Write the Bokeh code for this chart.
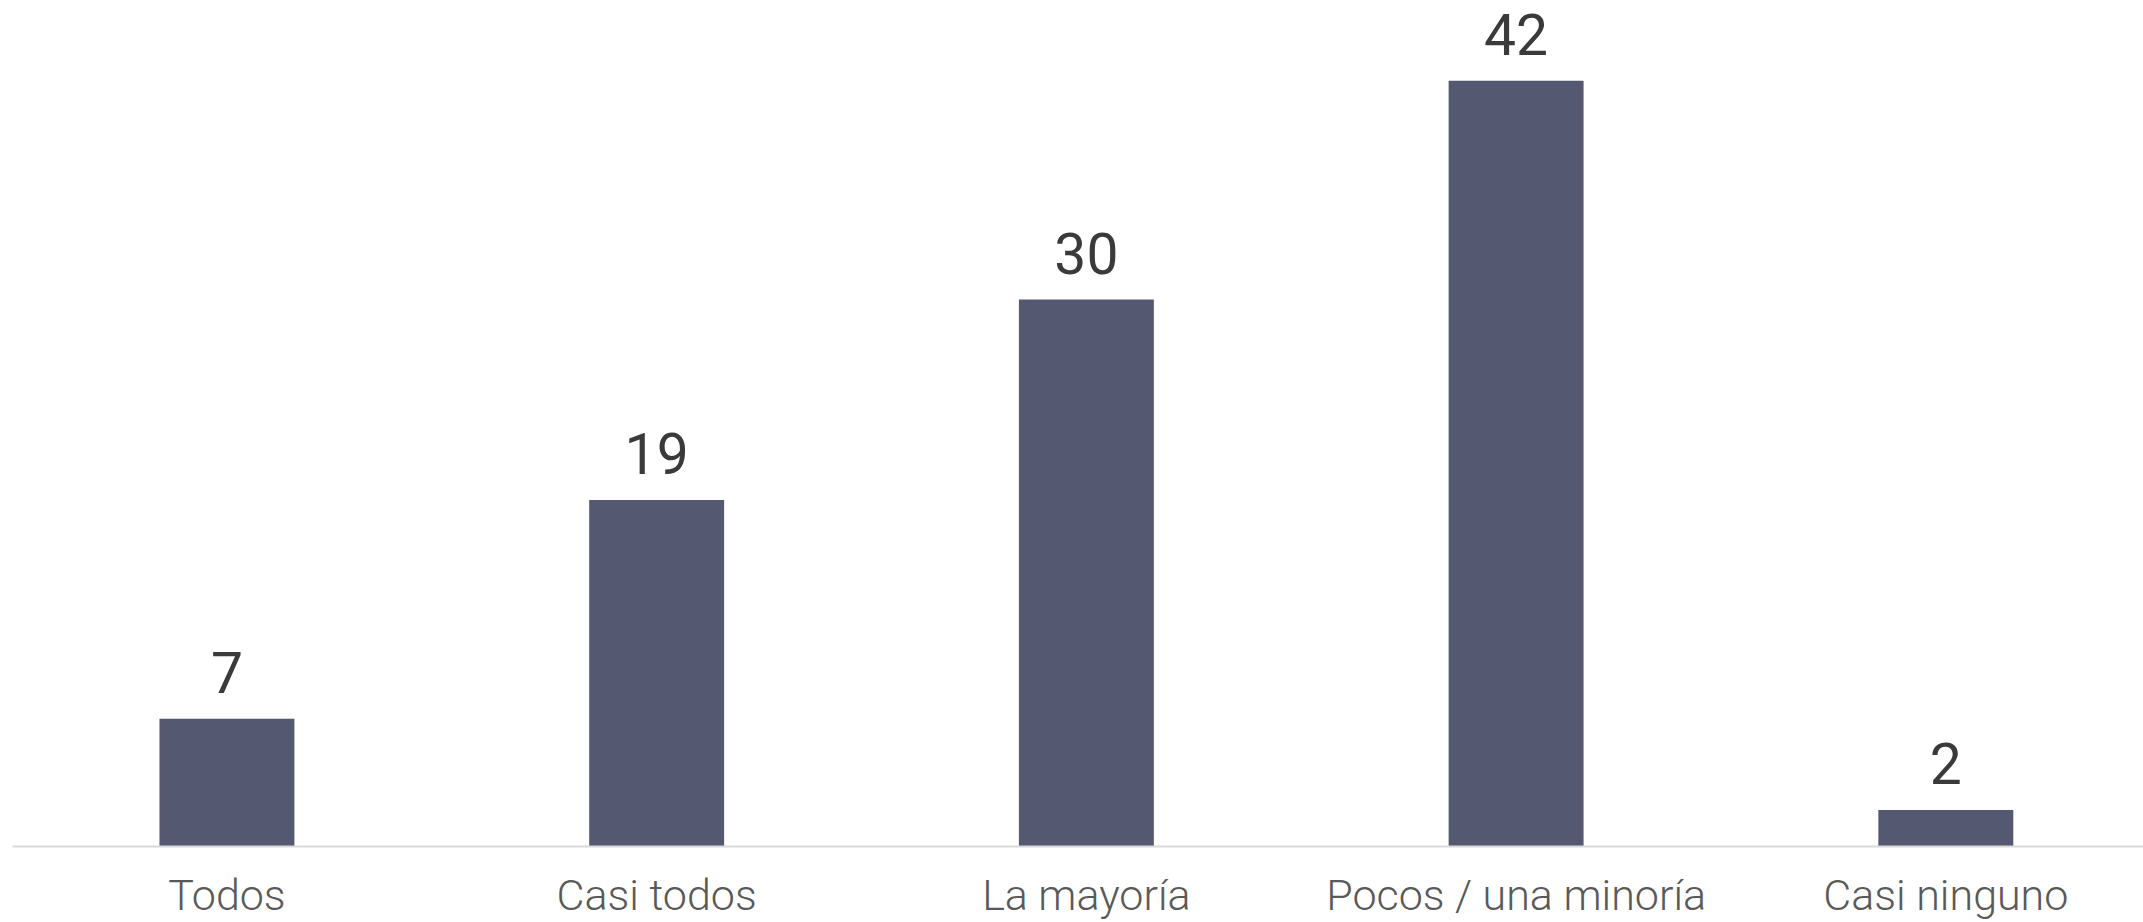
from bokeh.plotting import figure
from bokeh.models import ColumnDataSource, Range1d, FixedTicker, LabelSet
from bokeh.core.properties import value
from bokeh.embed import file_html
from bokeh.resources import INLINE

categories = ["Todos", "Casi todos", "La mayoría", "Pocos / una minoría", "Casi ninguno"]
values = [7, 19, 30, 42, 2]

idx = list(range(len(categories)))
src = ColumnDataSource(dict(x=idx, top=values, lab=[str(v) for v in values]))

p = figure(width=2143, height=922, output_backend="svg", toolbar_location=None,
           x_range=Range1d(-0.499, 4.46), y_range=Range1d(0, 46.4),
           min_border_left=12, min_border_right=0, min_border_top=0, min_border_bottom=0)
p.outline_line_color = None
p.grid.visible = False
p.yaxis.visible = False
p.background_fill_color = "white"
p.border_fill_color = "white"

p.vbar(x="x", top="top", bottom=0, width=0.314, source=src,
       fill_color="#545871", line_color=None)

labels = LabelSet(x="x", y="top", text="lab", source=src, text_align="center",
                  text_baseline="alphabetic", y_offset=26, text_font=value("Roboto"),
                  text_font_size="57px", text_color="#3a3a3a")
p.add_layout(labels)

ax = p.xaxis[0]
ax.ticker = FixedTicker(ticks=idx)
ax.major_label_overrides = {i: c for i, c in zip(idx, categories)}
ax.major_tick_line_color = None
ax.major_tick_out = 0
ax.major_tick_in = 0
ax.minor_tick_line_color = None
ax.minor_tick_out = 0
ax.axis_line_color = "#d9d9d9"
ax.axis_line_width = 2
ax.major_label_text_font = "Roboto Light"
ax.major_label_text_font_size = "43px"
ax.major_label_text_color = "#595959"
ax.major_label_standoff = 23

open("out.html", "w").write(file_html(p, INLINE))
